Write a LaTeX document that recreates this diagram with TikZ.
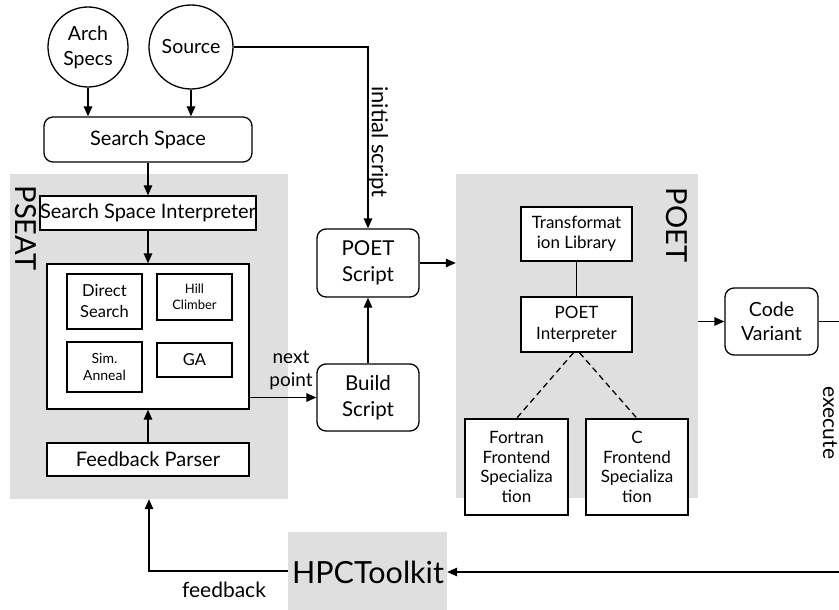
\documentclass[tikz,border=0pt]{standalone}
\usepackage{fontspec}
\setmainfont{Lato}
\usetikzlibrary{arrows.meta,calc}
\definecolor{regiongray}{RGB}{223,223,223}
\tikzset{
  base/.style={draw, line width=1.3pt, inner sep=0pt, align=center, font=\fontsize{20}{25}\selectfont},
  rbox/.style={base, rounded corners=9pt},
  sbox/.style={base, rectangle, fill=white},
  circ/.style={base, circle, font=\fontsize{19.5}{25}\selectfont},
  region/.style={fill=regiongray, inner sep=0pt},
  arr/.style={line width=1.3pt, -{Triangle[length=10pt,width=8.5pt]}},
  ln/.style={line width=1.3pt},
  dln/.style={line width=1.3pt, dash pattern=on 6pt off 4pt},
  lbl/.style={inner sep=0pt, align=center, font=\fontsize{19}{23}\selectfont},
  big/.style={inner sep=0pt, font=\fontsize{29}{31}\selectfont},
  midf/.style={font=\fontsize{17}{20.5}\selectfont},
}
\begin{document}
\begin{tikzpicture}[x=1pt,y=-1pt]
\useasboundingbox (0,0) rectangle (839,610);
% regions
\node[region, minimum width=278, minimum height=325] (pseat) at (149,336.5) {};
\node[region, minimum width=242, minimum height=324] (poet) at (577,336) {};
\node[region, minimum width=159, minimum height=80] (hpc) at (367.5,572) {};
\node[big, rotate=-90] (pseatlbl) at (26,228) {PSEAT};
\node[big, rotate=-90] (poetlbl) at (677,225) {POET};
\node[big, font=\fontsize{30.5}{32}\selectfont] (hpclbl) at (368,572) {HPCToolkit};
% top circles
\node[circ, minimum size=80] (arch) at (88,47) {Arch\\Specs};
\node[circ, minimum size=84] (source) at (191,47) {Source};
% PSEAT boxes
\node[rbox, minimum width=208, minimum height=45] (ss) at (148,139.5) {Search Space};
\node[sbox, minimum width=202, minimum height=34] (ssi) at (148,213) {Search Space Interpreter};
\node[sbox, minimum width=202, minimum height=145] (alg) at (148,336.5) {};
\node[sbox, minimum width=75, minimum height=55, font=\fontsize{16.5}{21}\selectfont] (ds) at (104.5,301.5) {Direct\\Search};
\node[sbox, minimum width=75, minimum height=46, font=\fontsize{13}{15.5}\selectfont] (hc) at (194.5,297) {Hill\\Climber};
\node[sbox, minimum width=75, minimum height=50, font=\fontsize{14}{17}\selectfont] (sa) at (104.5,367) {Sim.\\Anneal};
\node[sbox, minimum width=75, minimum height=34, font=\fontsize{16.5}{20}\selectfont] (ga) at (194.5,360) {GA};
\node[sbox, minimum width=202, minimum height=33] (fp) at (148,459.5) {Feedback Parser};
% middle
\node[rbox, minimum width=102, minimum height=68, font=\fontsize{20.5}{26}\selectfont] (poets) at (368,263) {POET\\Script};
\node[rbox, minimum width=102, minimum height=67, font=\fontsize{20.5}{26}\selectfont] (build) at (368,397.5) {Build\\Script};
% POET boxes
\node[sbox, minimum width=111, minimum height=54, midf] (tl) at (576.5,234) {Transformat\\ion Library};
\node[sbox, minimum width=111, minimum height=55, midf] (pi) at (576.5,324.5) {POET\\Interpreter};
\node[sbox, minimum width=103, minimum height=96, font=\fontsize{17}{19.5}\selectfont] (fort) at (516.5,467) {Fortran\\Frontend\\Specializa\\tion};
\node[sbox, minimum width=102, minimum height=96, font=\fontsize{17}{19.5}\selectfont] (cfe) at (637,467) {C\\Frontend\\Specializa\\tion};
\node[rbox, minimum width=93, minimum height=67, font=\fontsize{19.5}{23.5}\selectfont] (cv) at (771.5,321.5) {Code\\Variant};
% labels
\node[lbl, font=\fontsize{22}{24}\selectfont, rotate=-90] (initlbl) at (378,142) {initial script};
\node[lbl] (nextlbl) at (291,370) {next\\point};
\node[lbl, font=\fontsize{21}{24}\selectfont] (fblbl) at (224,590) {feedback};
\node[lbl, font=\fontsize{21}{24}\selectfont, rotate=-90] (execlbl) at (830,423) {execute};
\coordinate (rtop) at (842,321.5);
\coordinate (rbot) at (842,572);
\coordinate (fbcorner) at (149,571);
% connectors
\draw[arr] (arch.south) -- (arch.south |- ss.north);
\draw[arr] (source.south) -- (source.south |- ss.north);
\draw[arr] (ss.south) -- (ssi.north);
\draw[arr] (ssi.south) -- (alg.north);
\draw[arr] (fp.north) -- (alg.south);
\draw[arr] (alg.east |- build.west) -- (build.west);
\draw[arr] (source.east) -| (poets.north);
\draw[arr] (build.north) -- (poets.south);
\draw[arr] (poets.east) -- (poets.east -| poet.west);
\draw[ln] (tl.south) -- (pi.north);
\draw[dln] ([xshift=-3pt]pi.south) -- (fort.north);
\draw[dln] ([xshift=3pt]pi.south) -- (cfe.north);
\draw[arr] (poet.east |- cv.west) -- (cv.west);
\draw[ln] (cv.east) -- (rtop) -- (rbot);
\draw[arr] (rbot) -- (hpc.east);
\draw[arr] (hpc.west |- fbcorner) -- (fbcorner) -- (fbcorner |- pseat.south);
\end{tikzpicture}
\end{document}
